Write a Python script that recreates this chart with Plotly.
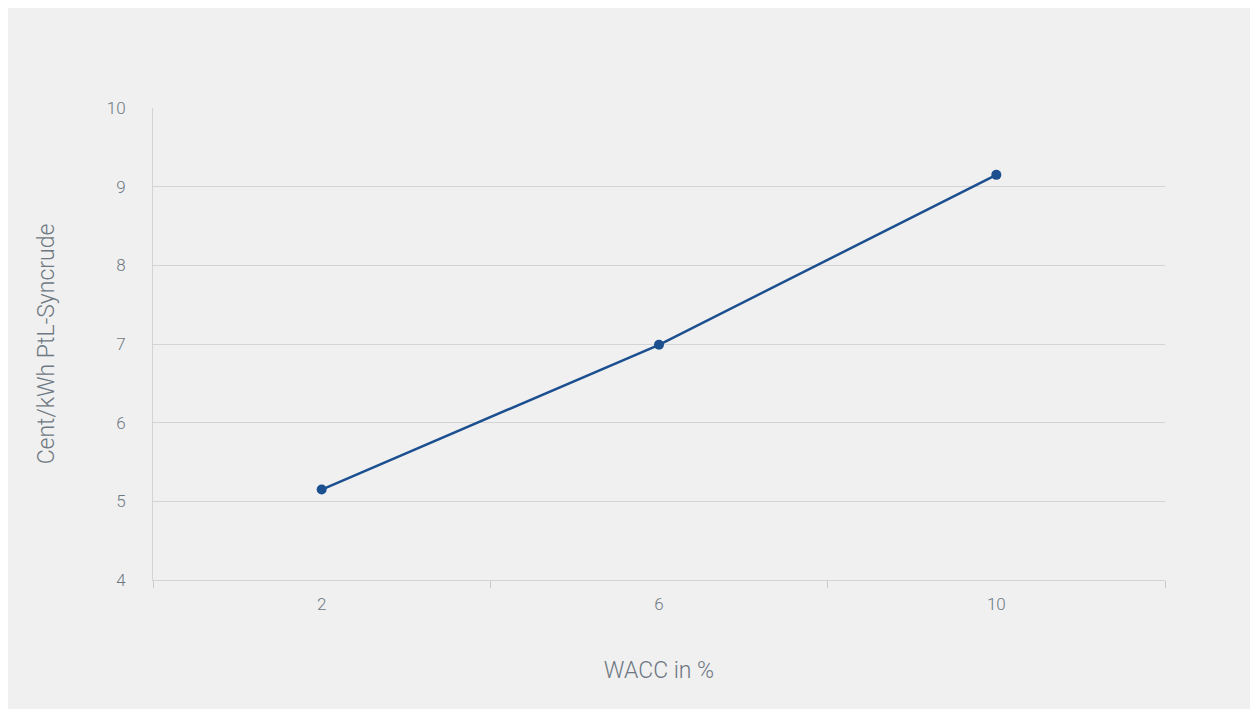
import plotly.graph_objects as go

categories = ["2", "6", "10"]
values = [5.15, 6.99, 9.15]
y_ticks = [4, 5, 6, 7, 8, 9, 10]

W, H = 1250, 701
ml, mr, mt, mb = 145, 93, 100, 129

grey = "#f0f0f0"
line_grey = "#d2d4d6"
line_blue = "#1b4f8f"

fig = go.Figure()
fig.add_trace(go.Scatter(
    x=categories, y=values, mode="lines+markers",
    line=dict(color=line_blue, width=2.5),
    marker=dict(color=line_blue, size=10),
    hoverinfo="skip", showlegend=False,
))

fig.update_layout(
    width=W, height=H,
    margin=dict(l=ml, r=mr, t=mt, b=mb),
    paper_bgcolor=grey, plot_bgcolor=grey,
    font=dict(family="Roboto, 'Open Sans', sans-serif", color="#6e7882", weight=300),
    xaxis=dict(
        type="category", tickson="boundaries", ticks="outside", ticklen=7,
        tickcolor="#c8cbce", tickwidth=1,
        showgrid=False, showline=True, linecolor=line_grey, linewidth=1,
        tickfont=dict(size=17, weight=300), ticklabelstandoff=9,
        title=dict(text="WACC in %", font=dict(size=23, weight=300), standoff=48),
        range=[-0.5, 2.5],
    ),
    yaxis=dict(
        range=[4, 10], tickvals=y_ticks, showgrid=True, gridcolor=line_grey,
        gridwidth=1, showline=True, linecolor=line_grey, linewidth=1,
        zeroline=False, tickfont=dict(size=17, weight=300), ticks="", ticklabelstandoff=23,
        title=dict(text="Cent/kWh PtL-Syncrude", font=dict(size=23, weight=300), standoff=45),
    ),
)

fig.write_html("out.html")
